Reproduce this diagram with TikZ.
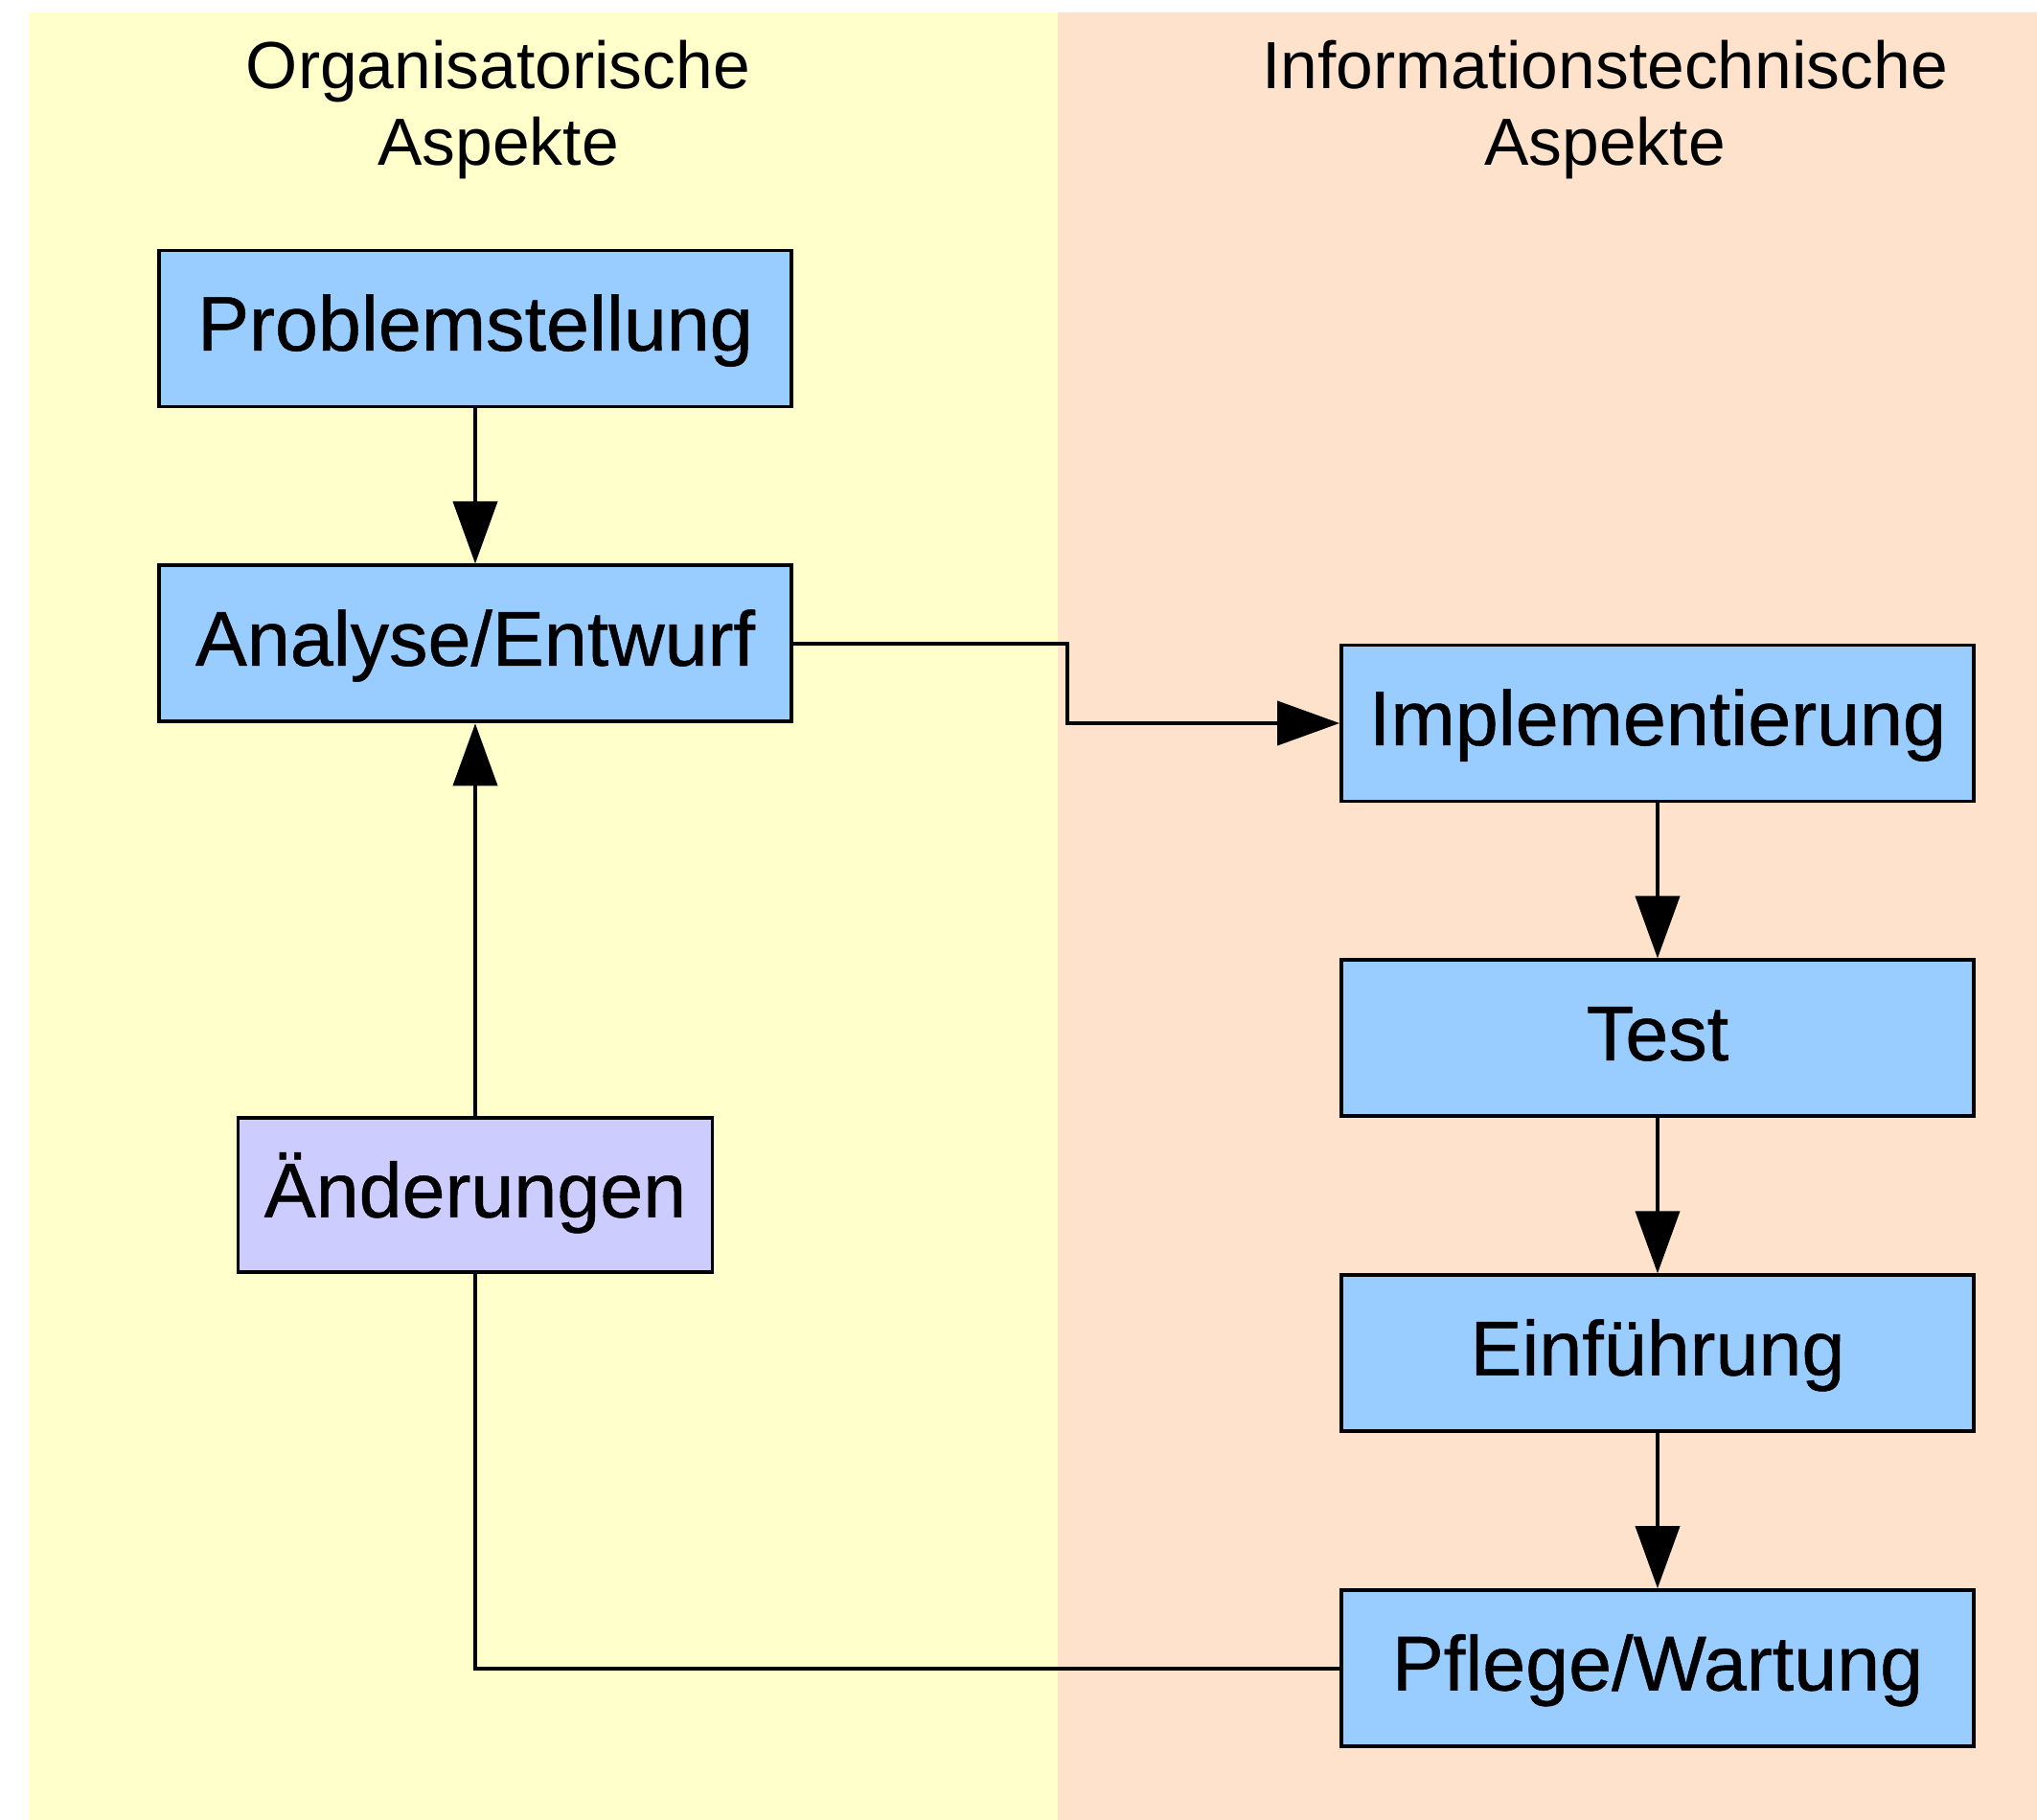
\documentclass[tikz,border=0pt]{standalone}
\usepackage{fontspec}
\setmainfont{Liberation Sans}
\newfontfamily\phasefont[FakeBold=0.6]{Liberation Sans}
\usetikzlibrary{positioning,arrows.meta}
\definecolor{orgyellow}{HTML}{FFFFCC}
\definecolor{itpink}{HTML}{FEE2CC}
\definecolor{phaseblue}{HTML}{99CCFF}
\definecolor{changeviolet}{HTML}{CCCCFF}

\begin{document}
\begin{tikzpicture}[
  node distance=1.62cm,
  phase/.style={rectangle, draw, line width=1.1pt, fill=phaseblue,
                minimum width=6.6cm, minimum height=1.63cm,
                text height=0.62cm, text depth=0.16cm,
                font=\phasefont\fontsize{23}{27}\selectfont},
  change/.style={phase, fill=changeviolet, minimum width=4.95cm, minimum height=1.61cm},
  aspect/.style={anchor=north, inner sep=0pt, align=center,
                 font=\fontsize{19.8}{22.8}\selectfont},
  arrow/.style={-{Triangle[length=0.65cm, width=0.46cm]}, line width=1.1pt}
]
\useasboundingbox (0,0) rectangle (21.26,-19);
\fill[orgyellow] (0.30,-0.13) rectangle (11.04,-19);
\fill[itpink] (11.04,-0.13) rectangle (21.26,-19);

\node[aspect] (org) at (5.20,-0.41) {Organisatorische\\Aspekte};
\node[aspect] (it) at (16.75,-0.41) {Informationstechnische\\Aspekte};

\node[phase] (problem) at (4.96,-3.43) {Problemstellung};
\node[phase, below=of problem] (analyse) {Analyse/Entwurf};
\node[change, below=4.10cm of analyse] (changes) {Änderungen};

\node[phase] (impl) at (17.30,-7.55) {Implementierung};
\node[phase, below=of impl] (test) {Test};
\node[phase, below=of test] (intro) {Einführung};
\node[phase, below=of intro] (maint) {Pflege/Wartung};

\draw[arrow] (problem.south) -- (analyse.north);
\draw[arrow] (analyse.east) -- ++(2.86,0) |- (impl.west);
\draw[arrow] (impl.south) -- (test.north);
\draw[arrow] (test.south) -- (intro.north);
\draw[arrow] (intro.south) -- (maint.north);
\draw[line width=1.1pt] (maint.west) -| (changes.south);
\draw[arrow] (changes.north) -- (analyse.south);
\end{tikzpicture}
\end{document}
